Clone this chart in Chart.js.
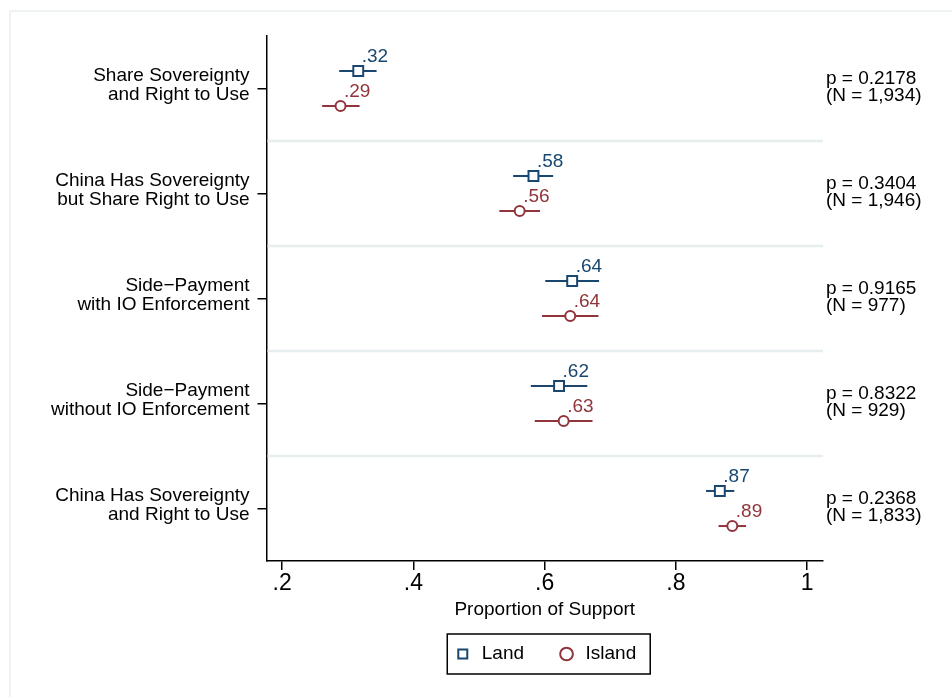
<!DOCTYPE html>
<html>
<head>
<meta charset="utf-8">
<title>Proportion of Support</title>
<script src="https://cdn.jsdelivr.net/npm/chart.js@4.4.1/dist/chart.umd.min.js"></script>
<style>
    html, body { margin: 0; padding: 0; background: #fff; }
    #wrap { position: relative; width: 952px; height: 697px; overflow: hidden; }
    #frame {
        position: absolute; left: 9px; top: 10px; width: 960px; height: 700px;
        border-left: 2px solid #edf2f3; border-top: 2px solid #edf2f3;
    }
    #supportChart { position: absolute; left: 0; top: 0; }
</style>
</head>
<body>
<div id="wrap">
    <div id="frame"></div>
    <canvas id="supportChart" width="952" height="697"></canvas>
</div>
<script>
// Proposals (y axis, top to bottom)
const categories = [
    ['Share Sovereignty', 'and Right to Use'],
    ['China Has Sovereignty', 'but Share Right to Use'],
    ['Side\u2212Payment', 'with IO Enforcement'],
    ['Side\u2212Payment', 'without IO Enforcement'],
    ['China Has Sovereignty', 'and Right to Use']
];

// Land frame: mean and 95% interval
const landMean = [0.316, 0.583, 0.642, 0.622, 0.867];
const landLow  = [0.287, 0.552, 0.601, 0.579, 0.846];
const landHigh = [0.344, 0.613, 0.683, 0.665, 0.889];

// Island frame: mean and 95% interval
const islandMean = [0.289, 0.562, 0.639, 0.629, 0.886];
const islandLow  = [0.261, 0.531, 0.596, 0.585, 0.865];
const islandHigh = [0.318, 0.593, 0.682, 0.673, 0.907];

// difference tests shown at the right
const pValues = ['0.2178', '0.3404', '0.9165', '0.8322', '0.2368'];
const nValues = ['1,934', '1,946', '977', '929', '1,833'];

const xTicks = [0.2, 0.4, 0.6, 0.8, 1];
const xTickLabels = ['.2', '.4', '.6', '.8', '1'];

const landColor = '#1a476f';
const islandColor = '#90353b';
const FONT = '"Liberation Sans", Arial, Helvetica, sans-serif';
const ROW_SHIFT = 0.167;

function fmtShare(v) {
    return v.toFixed(2).replace(/^0/, '');
}

function buildPoints(means, shift) {
    return means.map((m, i) => ({ x: m, y: i + 0.5 + shift }));
}

// light separators between proposals + the interval lines
const bandsAndBars = {
    id: 'bandsAndBars',
    beforeDatasetsDraw(chart) {
        const { ctx, chartArea, scales: { x, y } } = chart;
        ctx.save();
        ctx.strokeStyle = '#e7eef0';
        ctx.lineWidth = 2.5;
        for (let b = 1; b < categories.length; b++) {
            const py = y.getPixelForValue(b);
            ctx.beginPath();
            ctx.moveTo(chartArea.left + 1, py);
            ctx.lineTo(chartArea.right, py);
            ctx.stroke();
        }
        chart.data.datasets.forEach(ds => {
            ctx.strokeStyle = ds.borderColor;
            ctx.lineWidth = 2;
            ds.data.forEach((pt, j) => {
                const py = y.getPixelForValue(pt.y);
                ctx.beginPath();
                ctx.moveTo(x.getPixelForValue(ds.errLow[j]), py);
                ctx.lineTo(x.getPixelForValue(ds.errHigh[j]), py);
                ctx.stroke();
            });
        });
        ctx.restore();
    }
};

// value labels, p / N text and the legend frame
const annotations = {
    id: 'annotations',
    afterDatasetsDraw(chart) {
        const { ctx, chartArea, scales: { x, y } } = chart;
        ctx.save();
        ctx.font = '19px ' + FONT;
        ctx.textAlign = 'left';
        ctx.textBaseline = 'alphabetic';
        chart.data.datasets.forEach(ds => {
            ctx.fillStyle = ds.borderColor;
            ds.data.forEach(pt => {
                ctx.fillText(fmtShare(pt.x), x.getPixelForValue(pt.x) + 3.5, y.getPixelForValue(pt.y) - 9);
            });
        });
        ctx.fillStyle = '#000';
        categories.forEach((c, i) => {
            const cy = y.getPixelForValue(i + 0.5);
            ctx.fillText('p = ' + pValues[i], chartArea.right + 3, cy - 5);
            ctx.fillText('(N = ' + nValues[i] + ')', chartArea.right + 3, cy + 12.5);
        });
        ctx.restore();
    },
    afterDraw(chart) {
        const boxes = chart.legend && chart.legend.legendHitBoxes;
        if (!boxes || !boxes.length) return;
        const left = Math.min(...boxes.map(b => b.left)) - 6;
        const right = Math.max(...boxes.map(b => b.left + b.width)) + 14;
        const cy = boxes[0].top + boxes[0].height / 2;
        const { ctx } = chart;
        ctx.save();
        ctx.strokeStyle = '#000';
        ctx.lineWidth = 1.5;
        ctx.strokeRect(left, cy - 20, right - left, 40);
        ctx.restore();
    }
};

const ctx = document.getElementById('supportChart').getContext('2d');

new Chart(ctx, {
    type: 'scatter',
    data: {
        datasets: [
            {
                label: 'Land',
                data: buildPoints(landMean, -ROW_SHIFT),
                errLow: landLow,
                errHigh: landHigh,
                borderColor: landColor,
                backgroundColor: '#ffffff',
                pointStyle: 'rect',
                pointRadius: 7,
                pointBorderWidth: 2,
                borderWidth: 2
            },
            {
                label: 'Island',
                data: buildPoints(islandMean, ROW_SHIFT),
                errLow: islandLow,
                errHigh: islandHigh,
                borderColor: islandColor,
                backgroundColor: '#ffffff',
                pointStyle: 'circle',
                pointRadius: 5,
                pointBorderWidth: 2,
                borderWidth: 2
            }
        ]
    },
    options: {
        responsive: false,
        animation: false,
        devicePixelRatio: 1,
        events: [],
        layout: { padding: { top: 36, right: 129, bottom: 23.5, left: 0 } },
        scales: {
            x: {
                type: 'linear',
                min: 0.1762,
                max: 1.0242,
                afterBuildTicks: scale => { scale.ticks = xTicks.map(v => ({ value: v })); },
                afterFit: scale => { scale.height = 50.5; },
                ticks: {
                    autoSkip: false,
                    maxRotation: 0,
                    padding: 0,
                    color: '#000',
                    font: { family: FONT, size: 23, lineHeight: 1.2 },
                    callback: (v, i) => xTickLabels[i]
                },
                grid: { drawOnChartArea: false, drawTicks: true, tickLength: 9, color: '#000', lineWidth: 1.5 },
                border: { display: true, color: '#000', width: 1.5 },
                title: {
                    display: true,
                    text: 'Proportion of Support',
                    color: '#000',
                    font: { family: FONT, size: 19, lineHeight: 1 },
                    padding: { top: 0, bottom: -8 }
                }
            },
            y: {
                type: 'linear',
                min: 0,
                max: categories.length,
                reverse: true,
                afterBuildTicks: scale => { scale.ticks = categories.map((c, i) => ({ value: i + 0.5 })); },
                afterFit: scale => { scale.width = 266.5; },
                ticks: {
                    autoSkip: false,
                    padding: 8,
                    labelOffset: -3,
                    color: '#000',
                    font: { family: FONT, size: 19, lineHeight: 1 },
                    callback: (v, i) => categories[i]
                },
                grid: { drawOnChartArea: false, drawTicks: true, tickLength: 9, color: '#000', lineWidth: 1.5 },
                border: { display: true, color: '#000', width: 1.5 }
            }
        },
        plugins: {
            tooltip: { enabled: false },
            legend: {
                position: 'bottom',
                fullSize: false,
                labels: {
                    usePointStyle: true,
                    boxWidth: 19,
                    boxHeight: 9,
                    padding: 33,
                    color: '#000',
                    font: { family: FONT, size: 19 }
                }
            }
        }
    },
    plugins: [bandsAndBars, annotations]
});
</script>
</body>
</html>
